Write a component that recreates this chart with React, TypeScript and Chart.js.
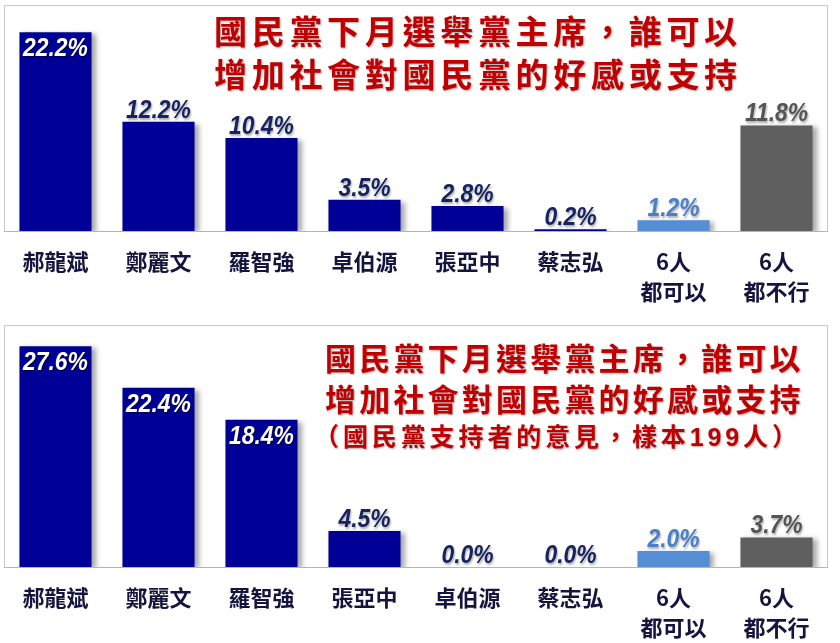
import React, { useEffect, useRef } from "react";
import { Chart, registerables } from "chart.js";

Chart.register(...registerables);

// ---------- data ----------
const topCategories: (string | string[])[] = [
  "郝龍斌", "鄭麗文", "羅智強", "卓伯源", "張亞中", "蔡志弘", ["6人", "都可以"], ["6人", "都不行"],
];
const topValues = [22.2, 12.2, 10.4, 3.5, 2.8, 0.2, 1.2, 11.8];

const bottomCategories: (string | string[])[] = [
  "郝龍斌", "鄭麗文", "羅智強", "張亞中", "卓伯源", "蔡志弘", ["6人", "都可以"], ["6人", "都不行"],
];
const bottomValues = [27.6, 22.4, 18.4, 4.5, 0.0, 0.0, 2.0, 3.7];

const topTitle = ["國民黨下月選舉黨主席，誰可以", "增加社會對國民黨的好感或支持"];
const bottomTitle = [
  "國民黨下月選舉黨主席，誰可以",
  "增加社會對國民黨的好感或支持",
  "（國民黨支持者的意見，樣本199人）",
];

const barColors = ["#000096", "#000096", "#000096", "#000096", "#000096", "#000096", "#558ED5", "#5F5F5F"];
const labelColors = ["#17235f", "#17235f", "#17235f", "#17235f", "#17235f", "#17235f", "#4a80c8", "#555555"];

// ---------- plugins ----------
const framePlugin = {
  id: "frame",
  beforeDatasetsDraw(chart: any) {
    const { ctx, chartArea: a } = chart;
    ctx.save();
    ctx.strokeStyle = "#c8c8c8";
    ctx.lineWidth = 1;
    ctx.beginPath();
    ctx.moveTo(a.left + 0.5, a.bottom);
    ctx.lineTo(a.left + 0.5, a.top + 0.5);
    ctx.lineTo(a.right - 0.5, a.top + 0.5);
    ctx.lineTo(a.right - 0.5, a.bottom);
    ctx.stroke();
    ctx.strokeStyle = "#b4b4b4";
    ctx.beginPath();
    ctx.moveTo(a.left, a.bottom + 0.5);
    ctx.lineTo(a.right, a.bottom + 0.5);
    ctx.stroke();
    ctx.restore();
  },
};

const shadowPlugin = {
  id: "barShadow",
  beforeDatasetDraw(chart: any) {
    const ctx = chart.ctx;
    ctx.save();
    ctx.shadowColor = "rgba(0,0,0,0.35)";
    ctx.shadowBlur = 5;
    ctx.shadowOffsetX = 4;
    ctx.shadowOffsetY = 2;
  },
  afterDatasetDraw(chart: any) {
    chart.ctx.restore();
  },
};

const valueLabelPlugin = {
  id: "valueLabels",
  afterDatasetsDraw(chart: any, _args: any, opts: any) {
    const ctx = chart.ctx;
    const meta = chart.getDatasetMeta(0);
    const data = chart.data.datasets[0].data as number[];
    const sx = 0.88;
    meta.data.forEach((bar: any, i: number) => {
      const v = data[i];
      const text = v.toFixed(1) + "%";
      const inside = v >= opts.insideThreshold;
      ctx.save();
      ctx.font = "italic bold 26px 'Liberation Sans', sans-serif";
      ctx.textAlign = "center";
      ctx.textBaseline = "alphabetic";
      const y = inside ? bar.y + 24 : bar.y - 4;
      ctx.translate(bar.x, y);
      ctx.scale(sx, 1);
      if (inside) {
        ctx.shadowColor = "rgba(0,0,0,0.6)";
        ctx.shadowBlur = 2;
        ctx.shadowOffsetX = 1;
        ctx.shadowOffsetY = 1;
        ctx.fillStyle = "#ffffff";
      } else {
        ctx.shadowColor = "rgba(0,0,0,0.3)";
        ctx.shadowBlur = 2;
        ctx.shadowOffsetX = 1;
        ctx.shadowOffsetY = 2;
        ctx.fillStyle = labelColors[i];
      }
      ctx.fillText(text, 0, 0);
      ctx.restore();
    });
  },
};

const titlePlugin = {
  id: "redTitle",
  afterDraw(chart: any, _args: any, opts: any) {
    const ctx = chart.ctx;
    ctx.save();
    ctx.fillStyle = "#C00000";
    ctx.textAlign = "left";
    ctx.textBaseline = "middle";
    ctx.shadowColor = "rgba(0,0,0,0.35)";
    ctx.shadowBlur = 2;
    ctx.shadowOffsetX = 1;
    ctx.shadowOffsetY = 1;
    (opts.lines as any[]).forEach((ln: any) => {
      ctx.font = `bold ${ln.size}px ${ln.family || "'Noto Sans CJK TC', sans-serif"}`;
      (ctx as any).letterSpacing = `${ln.spacing}px`;
      ctx.fillText(ln.text, ln.x, ln.y);
    });
    ctx.restore();
  },
};

// ---------- component ----------
type Props = {
  categories: (string | string[])[];
  values: number[];
  yMax: number;
  height: number;
  axisHeight: number;
  titleLines: any[];
};

function BarPanel({ categories, values, yMax, height, axisHeight, titleLines }: Props) {
  const ref = useRef<HTMLCanvasElement | null>(null);
  useEffect(() => {
    if (!ref.current) return;
    const chart = new Chart(ref.current, {
      type: "bar",
      data: {
        labels: categories as any,
        datasets: [
          {
            data: values,
            backgroundColor: barColors,
            borderWidth: 0,
            barPercentage: 0.7,
            categoryPercentage: 1,
          },
        ],
      },
      options: {
        animation: false,
        responsive: false,
        maintainAspectRatio: false,
        devicePixelRatio: 1,
        layout: { padding: { left: 4, right: 12, top: 5, bottom: 0 } },
        plugins: {
          legend: { display: false },
          tooltip: { enabled: false },
          title: { display: false },
          valueLabels: { insideThreshold: 15 },
          redTitle: { lines: titleLines },
        } as any,
        scales: {
          x: {
            grid: { display: false, drawTicks: false },
            border: { display: false },
            ticks: {
              color: "#14143f",
              padding: 16,
              maxRotation: 0,
              autoSkip: false,
              font: { family: "'Noto Sans CJK TC', sans-serif", size: 22, weight: "bold", lineHeight: 1.36 },
            },
            afterFit(scale: any) {
              scale.height = axisHeight;
            },
          },
          y: {
            display: false,
            min: 0,
            max: yMax,
          },
        },
      },
      plugins: [framePlugin, shadowPlugin, valueLabelPlugin, titlePlugin],
    });
    return () => chart.destroy();
  }, []);
  return <canvas ref={ref} width={840} height={height} style={{ display: "block" }} />;
}

export default function App() {
  const topLines = [
    { text: topTitle[0], x: 214, y: 31, size: 33, spacing: 4.7 },
    { text: topTitle[1], x: 214, y: 74, size: 33, spacing: 4.7 },
  ];
  const bottomLines = [
    { text: bottomTitle[0], x: 325, y: 38, size: 31, spacing: 3.2 },
    { text: bottomTitle[1], x: 325, y: 79, size: 31, spacing: 3.2 },
    { text: bottomTitle[2], x: 314, y: 119, size: 25, spacing: 3.9, family: "'Liberation Sans', 'Noto Sans CJK TC', sans-serif" },
  ];
  return (
    <div style={{ position: "absolute", left: 0, top: 0, width: 840, height: 643, background: "#ffffff" }}>
      <BarPanel categories={topCategories} values={topValues} yMax={25.25} height={320} axisHeight={89} titleLines={topLines} />
      <BarPanel categories={bottomCategories} values={bottomValues} yMax={30.25} height={323} axisHeight={76} titleLines={bottomLines} />
    </div>
  );
}
